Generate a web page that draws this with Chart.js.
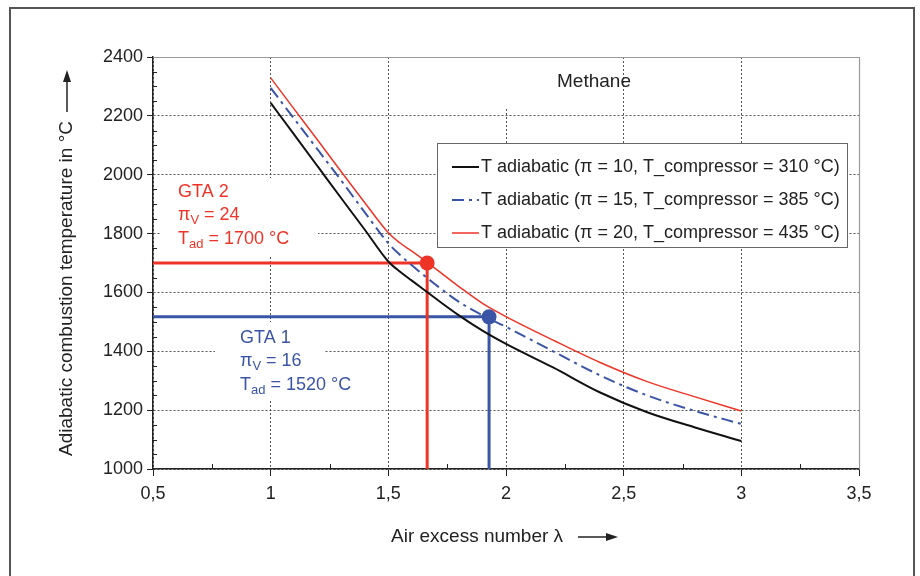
<!DOCTYPE html>
<html>
<head>
<meta charset="utf-8">
<script src="https://cdn.jsdelivr.net/npm/chart.js@4.4.1/dist/chart.umd.min.js"></script>
<style>
  html, body { margin: 0; padding: 0; background: #fff; }
  #wrap { width: 920px; height: 576px; }
</style>
</head>
<body>
<div id="wrap"><canvas id="tempChart" width="920" height="576"></canvas></div>
<script>
// air excess number (lambda) and adiabatic temperatures
const lambda = [1, 1.1, 1.2, 1.3, 1.4, 1.5, 1.55, 1.6, 1.7, 1.8, 1.9, 2, 2.2, 2.4, 2.6, 2.8, 3];
const tPi10 = [2244, 2136, 2028, 1920, 1813, 1705, 1670, 1640, 1580, 1522, 1470, 1425, 1345, 1260, 1193, 1142, 1095];
const tPi15 = [2295, 2190, 2085, 1980, 1872, 1767, 1727, 1692, 1627, 1568, 1522, 1483, 1400, 1318, 1250, 1198, 1153];
const tPi20 = [2329, 2223, 2117, 2010, 1905, 1803, 1768, 1740, 1681, 1620, 1563, 1518, 1438, 1362, 1297, 1246, 1197];

const seriesLabels = [
  'T adiabatic (\u03c0 = 10, T_compressor = 310 \u00b0C)',
  'T adiabatic (\u03c0 = 15, T_compressor = 385 \u00b0C)',
  'T adiabatic (\u03c0 = 20, T_compressor = 435 \u00b0C)'
];

// operating points GTA 2 and GTA 1
const gtaNames = ['GTA 2', 'GTA 1'];
const gtaLambda = [1.665, 1.928];
const gtaTemp = [1700, 1517];
const gtaPi = ['24', '16'];
const gtaTad = ['1700', '1520'];

const xTickLabels = ['0,5', '1', '1,5', '2', '2,5', '3', '3,5'];
const yTickLabels = ['1000', '1200', '1400', '1600', '1800', '2000', '2200', '2400'];

const RED = '#ee3427';
const BLUE = '#3b55a6';
const BLACK = '#111111';
const FONT = '"Liberation Sans", Arial, Helvetica, sans-serif';

const pts = (xs, ys) => xs.map((x, i) => ({ x: x, y: ys[i] }));
const xMin = 0.5, yMin = 1000;

// lines from the axes to each operating point
const gtaPath = (i) => [
  { x: xMin, y: gtaTemp[i] },
  { x: gtaLambda[i], y: gtaTemp[i] },
  { x: gtaLambda[i], y: yMin }
];

function richText(ctx, x, y, parts, size) {
  let cx = x;
  parts.forEach(p => {
    const sub = p[1];
    ctx.font = (sub ? Math.round(size * 0.72) : size) + 'px ' + FONT;
    ctx.fillText(p[0], cx, sub ? y + size * 0.3 : y);
    cx += ctx.measureText(p[0]).width;
  });
}

function arrow(ctx, x, y, len) {
  ctx.lineWidth = 1.5;
  ctx.beginPath();
  ctx.moveTo(x, y);
  ctx.lineTo(x + len - 10, y);
  ctx.stroke();
  ctx.beginPath();
  ctx.moveTo(x + len, y);
  ctx.lineTo(x + len - 12, y - 4);
  ctx.lineTo(x + len - 12, y + 4);
  ctx.closePath();
  ctx.fill();
}

const decor = {
  id: 'decor',
  beforeDraw(chart) {
    const ctx = chart.ctx;
    ctx.save();
    ctx.fillStyle = '#fff';
    ctx.fillRect(0, 0, chart.width, chart.height);
    ctx.strokeStyle = '#555';
    ctx.lineWidth = 2;
    ctx.strokeRect(10, 8, 904, 600);
    ctx.restore();
  },
  beforeDatasetsDraw(chart) {
    const ctx = chart.ctx;
    const a = chart.chartArea;
    const xs = chart.scales.x, ys = chart.scales.y;
    ctx.save();
    // white boxes behind text blocks and legend
    ctx.fillStyle = '#fff';
    ctx.fillRect(160, 178, 158, 79);
    ctx.fillRect(215, 322, 110, 78);
    ctx.fillRect(498, a.top + 1, 112, 49);
    ctx.fillRect(437, 143, 411, 105);
    // top and right frame of the plot
    ctx.strokeStyle = '#9a9a9a';
    ctx.lineWidth = 1.2;
    ctx.beginPath();
    ctx.moveTo(a.left, a.top + 0.5);
    ctx.lineTo(a.right + 0.5, a.top + 0.5);
    ctx.lineTo(a.right + 0.5, a.bottom);
    ctx.stroke();
    // minor ticks (inside)
    ctx.strokeStyle = '#222';
    ctx.lineWidth = 1;
    ctx.beginPath();
    for (let v = 1050; v < 2400; v += 50) {
      if (v % 200 === 0) continue;
      const py = Math.round(ys.getPixelForValue(v)) + 0.5;
      ctx.moveTo(a.left, py);
      ctx.lineTo(a.left + 4, py);
    }
    for (let v = 0.75; v < 3.5; v += 0.5) {
      const px = Math.round(xs.getPixelForValue(v)) + 0.5;
      ctx.moveTo(px, a.bottom);
      ctx.lineTo(px, a.bottom - 5);
    }
    ctx.stroke();
    ctx.restore();
  },
  afterDatasetsDraw(chart) {
    const ctx = chart.ctx;
    ctx.save();
    ctx.textBaseline = 'middle';
    ctx.textAlign = 'left';

    // operating point labels
    const blocks = [{ x: 178, y: 192, c: RED }, { x: 240, y: 338, c: BLUE }];
    blocks.forEach((b, i) => {
      ctx.fillStyle = b.c;
      richText(ctx, b.x, b.y, [[gtaNames[i]]], 18);
      richText(ctx, b.x, b.y + 23, [['\u03c0'], ['V', true], [' = ' + gtaPi[i]]], 18);
      richText(ctx, b.x, b.y + 47, [['T'], ['ad', true], [' = ' + gtaTad[i] + ' \u00b0C']], 18);
    });

    // fuel name
    ctx.fillStyle = '#222';
    ctx.font = '19px ' + FONT;
    ctx.textAlign = 'center';
    ctx.fillText('Methane', 594, 82);

    // legend
    ctx.strokeStyle = '#666';
    ctx.lineWidth = 1;
    ctx.strokeRect(437.5, 143.5, 410, 104);
    const legStyles = [
      { c: BLACK, w: 2, d: [] },
      { c: BLUE, w: 2, d: [12, 5, 3, 5] },
      { c: RED, w: 1.5, d: [] }
    ];
    ctx.textAlign = 'left';
    ctx.font = '18px ' + FONT;
    seriesLabels.forEach((lab, i) => {
      const y = 167 + i * 33;
      const s = legStyles[i];
      ctx.strokeStyle = s.c;
      ctx.lineWidth = s.w;
      ctx.setLineDash(s.d);
      ctx.beginPath();
      ctx.moveTo(452, y);
      ctx.lineTo(479, y);
      ctx.stroke();
      ctx.setLineDash([]);
      ctx.fillStyle = '#222';
      ctx.fillText(lab, 481, y);
    });

    // axis titles with arrows
    ctx.fillStyle = '#222';
    ctx.strokeStyle = '#222';
    ctx.font = '19px ' + FONT;
    const xt = 'Air excess number \u03bb';
    ctx.fillText(xt, 391, 537);
    arrow(ctx, 578, 537, 40);

    ctx.translate(67, 456);
    ctx.rotate(-Math.PI / 2);
    const yt = 'Adiabatic combustion temperature in \u00b0C';
    ctx.fillText(yt, 0, 0);
    arrow(ctx, ctx.measureText(yt).width + 9, 0, 42);
    ctx.restore();
  }
};

const ctx = document.getElementById('tempChart');
new Chart(ctx, {
  type: 'line',
  data: {
    datasets: [
      { label: seriesLabels[0], data: pts(lambda, tPi10), borderColor: BLACK, borderWidth: 2, pointRadius: 0, cubicInterpolationMode: 'monotone' },
      { label: seriesLabels[1], data: pts(lambda, tPi15), borderColor: BLUE, borderWidth: 2, borderDash: [12, 5, 3, 5], pointRadius: 0, cubicInterpolationMode: 'monotone' },
      { label: seriesLabels[2], data: pts(lambda, tPi20), borderColor: RED, borderWidth: 1.5, pointRadius: 0, cubicInterpolationMode: 'monotone' },
      { label: gtaNames[0], data: gtaPath(0), borderColor: RED, borderWidth: 3, pointRadius: 0, tension: 0 },
      { label: gtaNames[1], data: gtaPath(1), borderColor: BLUE, borderWidth: 3, pointRadius: 0, tension: 0 },
      { label: 'points', type: 'scatter', data: pts(gtaLambda, gtaTemp), backgroundColor: [RED, BLUE], borderWidth: 0, pointRadius: 7.5 }
    ]
  },
  options: {
    responsive: false,
    animation: false,
    devicePixelRatio: 1,
    layout: { padding: { left: 0, top: 57, right: 61, bottom: 0 } },
    plugins: { legend: { display: false }, tooltip: { enabled: false } },
    scales: {
      x: {
        type: 'linear',
        min: 0.5,
        max: 3.5,
        afterFit: (s) => { s.height = 107; },
        afterBuildTicks: (s) => { s.ticks = xTickLabels.map((t, i) => ({ value: 0.5 + i * 0.5 })); },
        ticks: {
          callback: (v, i) => xTickLabels[i],
          color: '#222',
          font: { family: FONT, size: 18 },
          padding: 7,
          maxRotation: 0,
          autoSkip: false
        },
        grid: { color: '#555', tickColor: '#222', tickLength: 7, lineWidth: 1 },
        border: { color: '#222', width: 1.5, dash: [2, 2] }
      },
      y: {
        type: 'linear',
        min: 1000,
        max: 2400,
        afterFit: (s) => { s.width = 153; },
        afterBuildTicks: (s) => { s.ticks = yTickLabels.map(t => ({ value: Number(t) })); },
        ticks: {
          callback: (v, i) => yTickLabels[i],
          color: '#222',
          font: { family: FONT, size: 18 },
          padding: 4
        },
        grid: { color: '#555', tickColor: '#222', tickLength: 6, lineWidth: 1 },
        border: { color: '#222', width: 1.5, dash: [2, 2] }
      }
    }
  },
  plugins: [decor]
});
</script>
</body>
</html>
